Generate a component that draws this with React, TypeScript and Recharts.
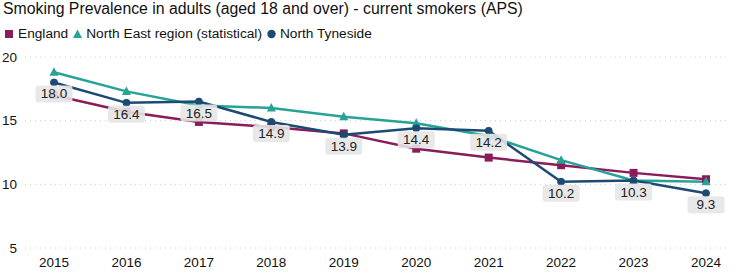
import { LineChart, Line, XAxis, YAxis, CartesianGrid, LabelList } from 'recharts'

const years = ['2015', '2016', '2017', '2018', '2019', '2020', '2021', '2022', '2023', '2024']
const england = [17.0, 15.7, 14.9, 14.5, 14.0, 12.8, 12.1, 11.5, 10.9, 10.4]
const northEast = [18.8, 17.3, 16.2, 16.0, 15.3, 14.8, 13.8, 11.9, 10.3, 10.2]
const northTyneside = [18.0, 16.4, 16.5, 14.9, 13.9, 14.4, 14.2, 10.2, 10.3, 9.3]
const yTicks = [5, 10, 15, 20]

const C_ENG = '#8a1c5a'
const C_NE = '#26a396'
const C_NT = '#1b4a72'
const FONT = 'Arial, "Liberation Sans", sans-serif'

const data = years.map((year, i) => ({
  year,
  england: england[i],
  northEast: northEast[i],
  northTyneside: northTyneside[i],
}))

const SquareDot = (props: any) => {
  const { cx, cy } = props
  if (cx == null || cy == null) return null
  return <rect x={cx - 4} y={cy - 4} width={8} height={8} fill={C_ENG} />
}

const TriangleDot = (props: any) => {
  const { cx, cy } = props
  if (cx == null || cy == null) return null
  return <path d={`M${cx},${cy - 5} L${cx + 4.5},${cy + 3.5} L${cx - 4.5},${cy + 3.5} Z`} fill={C_NE} />
}

const ValueLabel = (props: any) => {
  const { x, y, value } = props
  const text = Number(value).toFixed(1)
  return (
    <g>
      <rect x={x - 18.5} y={y + 3} width={37} height={17} rx={3} fill="#e5e5e5" fillOpacity={0.9} />
      <text x={x} y={y + 16} textAnchor="middle" fontSize={13.5} fill="#222" fontFamily={FONT}>
        {text}
      </text>
    </g>
  )
}

function LegendItem({ color, shape, label }: { color: string; shape: string; label: string }) {
  let marker
  if (shape === 'square') marker = <rect x={0} y={1} width={8} height={8} fill={color} />
  else if (shape === 'triangle') marker = <path d="M4.5,0.5 L9,9 L0,9 Z" fill={color} />
  else marker = <circle cx={4.5} cy={5} r={4.2} fill={color} />
  return (
    <span style={{ display: 'inline-flex', alignItems: 'center', marginRight: 5 }}>
      <svg width={10} height={10} style={{ marginRight: 3 }}>
        {marker}
      </svg>
      {label}
    </span>
  )
}

export default function App() {
  return (
    <div style={{ position: 'absolute', left: 0, top: 0, width: 732, height: 273, background: '#fff', fontFamily: FONT }}>
      <div style={{ position: 'absolute', left: 3, top: 0, fontSize: 15.8, color: '#111', whiteSpace: 'nowrap' }}>
        Smoking Prevalence in adults (aged 18 and over) - current smokers (APS)
      </div>
      <div style={{ position: 'absolute', left: 5, top: 26, fontSize: 13.7, color: '#111', whiteSpace: 'nowrap', display: 'flex' }}>
        <LegendItem color={C_ENG} shape="square" label="England" />
        <LegendItem color={C_NE} shape="triangle" label="North East region (statistical)" />
        <LegendItem color={C_NT} shape="circle" label="North Tyneside" />
      </div>
      <LineChart width={732} height={273} data={data} margin={{ top: 57, right: 2, bottom: 0, left: 0 }}>
        <CartesianGrid vertical={false} stroke="#cccccc" strokeDasharray="1 4" />
        <XAxis
          dataKey="year"
          axisLine={false}
          tickLine={false}
          height={25}
          padding={{ left: 29, right: 24 }}
          tick={{ fill: '#111', fontSize: 13.5, fontFamily: FONT }}
          tickMargin={3}
          interval={0}
        />
        <YAxis
          domain={[5, 20]}
          ticks={yTicks}
          axisLine={false}
          tickLine={false}
          tickSize={0}
          width={25}
          tickMargin={8}
          tick={{ fill: '#111', fontSize: 13.5, fontFamily: FONT }}
        />
        <Line
          dataKey="england"
          stroke={C_ENG}
          strokeWidth={2.5}
          dot={SquareDot}
          activeDot={false}
          isAnimationActive={false}
        />
        <Line
          dataKey="northEast"
          stroke={C_NE}
          strokeWidth={2.5}
          dot={TriangleDot}
          activeDot={false}
          isAnimationActive={false}
        />
        <Line
          dataKey="northTyneside"
          stroke={C_NT}
          strokeWidth={2.5}
          dot={{ r: 3.5, fill: C_NT, stroke: C_NT, strokeWidth: 1 }}
          activeDot={false}
          isAnimationActive={false}
        >
          <LabelList dataKey="northTyneside" content={ValueLabel} />
        </Line>
      </LineChart>
    </div>
  )
}
